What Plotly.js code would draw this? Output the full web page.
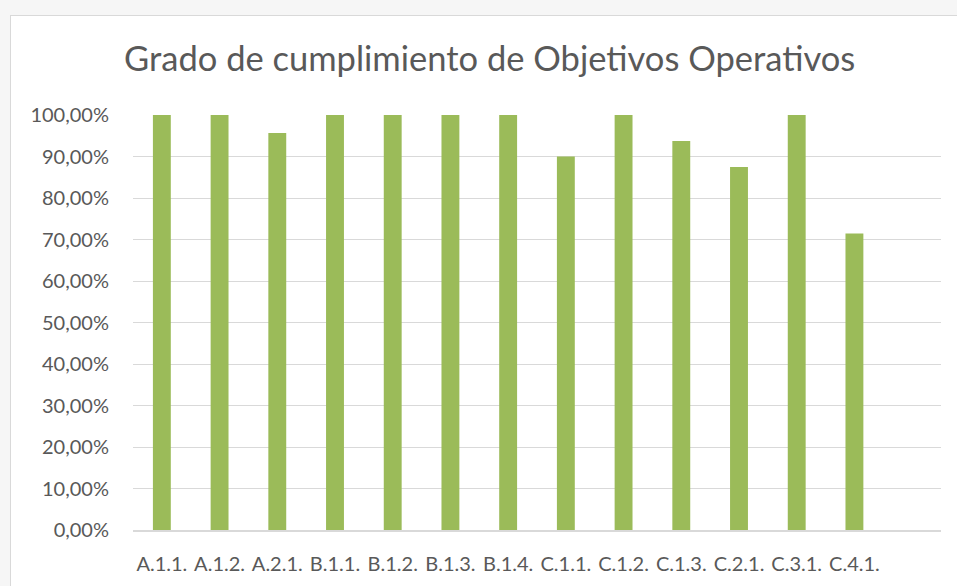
<!DOCTYPE html>
<html>
<head>
<meta charset="utf-8">
<script src="https://cdn.plot.ly/plotly-3.0.1.min.js"></script>
<style>
html,body{margin:0;padding:0;background:#f6f6f6;width:957px;height:586px;overflow:hidden;}
#chart{position:absolute;left:10px;top:15px;width:947px;height:571px;background:#fff;border-left:1px solid #d9d9d9;border-top:1px solid #d9d9d9;}
</style>
</head>
<body>
<div id="chart"></div>
<script>
var categories = ["A.1.1.","A.1.2.","A.2.1.","B.1.1.","B.1.2.","B.1.3.","B.1.4.","C.1.1.","C.1.2.","C.1.3.","C.2.1.","C.3.1.","C.4.1."];
var values = [1.0, 1.0, 0.9565, 1.0, 1.0, 1.0, 1.0, 0.90, 1.0, 0.9375, 0.875, 1.0, 0.7143];
var tickVals = [0,0.1,0.2,0.3,0.4,0.5,0.6,0.7,0.8,0.9,1.0];

var trace = {
  type: 'bar',
  x: categories,
  y: values,
  marker: {color: '#9bbb59'},
  hoverinfo: 'x+y'
};
var layout = {
  width: 946, height: 570,
  separators: ',.',
  paper_bgcolor: '#ffffff',
  plot_bgcolor: '#ffffff',
  margin: {l: 122, r: 16, t: 99, b: 56},
  bargap: 0.69,
  showlegend: false,
  title: {text: 'Grado de cumplimiento de Objetivos Operativos', x: 0.506, xanchor: 'center', y: 0.925, yanchor: 'middle',
          font: {family: 'Lato, Carlito, sans-serif', size: 34.5, color: '#595959'}},
  xaxis: {type: 'category', categoryarray: categories, range: [-0.5, 13.5], showgrid: false, zeroline: false, showline: true, linecolor: '#d9d9d9', linewidth: 1.5,
          ticks: '', tickfont: {family: 'Lato, Carlito, sans-serif', size: 20, color: '#595959'}, ticklabelstandoff: 15},
  yaxis: {range: [0, 1], tickvals: tickVals, tickformat: '.2%', showgrid: true, gridcolor: '#d9d9d9', gridwidth: 1,
          zeroline: false, showline: false, ticks: '', ticklabelstandoff: 23,
          tickfont: {family: 'Lato, Carlito, sans-serif', size: 20, color: '#595959'}}
};
Plotly.newPlot('chart', [trace], layout, {displayModeBar: false, staticPlot: true});
</script>
</body>
</html>
